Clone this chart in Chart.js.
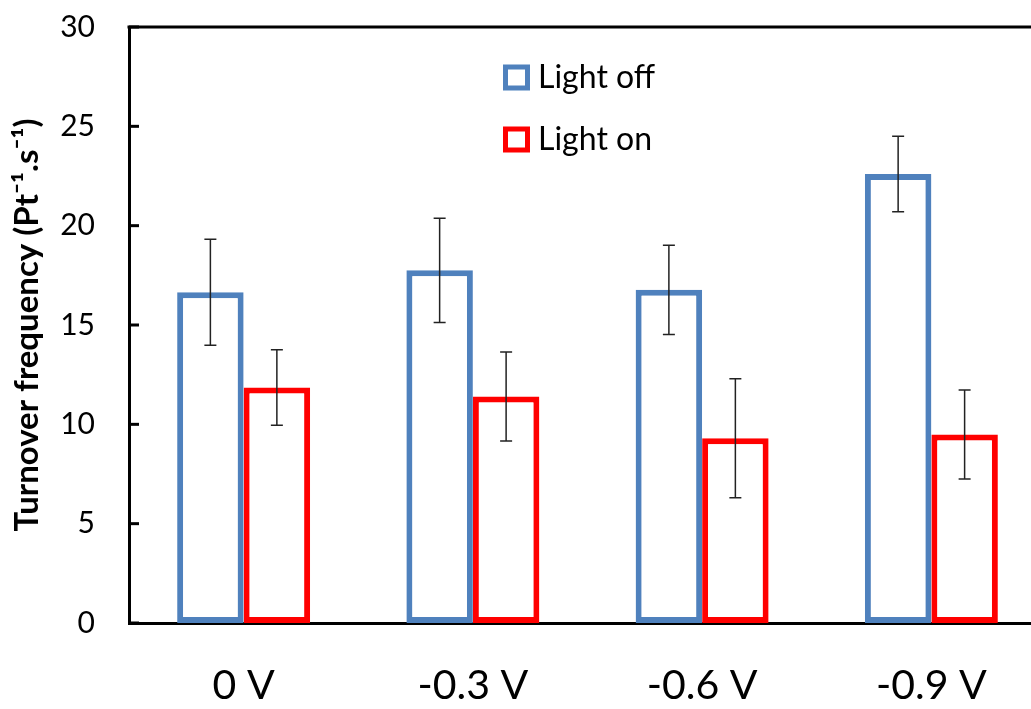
<!DOCTYPE html>
<html>
<head>
<meta charset="utf-8">
<script src="https://cdn.jsdelivr.net/npm/chart.js"></script>
<style>
  html, body { margin: 0; padding: 0; background: #fff; overflow: hidden; }
  #wrap { width: 1060px; height: 709px; }
</style>
</head>
<body>
<div id="wrap"><canvas id="tofChart"></canvas></div>
<script>
// categories and measured values
const potentials = ['0 V', '-0.3 V', '-0.6 V', '-0.9 V'];
const lightOff = [16.65, 17.75, 16.77, 22.6];
const lightOffErr = [2.67, 2.62, 2.25, 1.9];
const lightOn = [11.85, 11.4, 9.3, 9.49];
const lightOnErr = [1.9, 2.24, 3.0, 2.24];
const yTicks = [0, 5, 10, 15, 20, 25, 30];

const FONT = 'Lato, "Open Sans", sans-serif';

// frame line on top, inward ticks on y axis, error bars, boxed legend
const decorPlugin = {
    id: 'decor',
    afterDatasetsDraw(chart) {
        const ctx = chart.ctx;
        const area = chart.chartArea;
        const y = chart.scales.y;
        ctx.save();

        // top frame
        ctx.strokeStyle = '#000';
        ctx.lineWidth = 3;
        ctx.beginPath();
        ctx.moveTo(area.left - 1.5, area.top);
        ctx.lineTo(area.right, area.top);
        ctx.stroke();

        // tick marks pointing into the plot
        ctx.lineWidth = 3;
        yTicks.forEach(v => {
            const py = y.getPixelForValue(v);
            ctx.beginPath();
            ctx.moveTo(area.left, py);
            ctx.lineTo(area.left + 10, py);
            ctx.stroke();
        });

        // error bars
        ctx.strokeStyle = '#222';
        ctx.lineWidth = 1.5;
        chart.data.datasets.forEach((ds, i) => {
            const meta = chart.getDatasetMeta(i);
            meta.data.forEach((bar, j) => {
                const hi = y.getPixelForValue(ds.data[j] + ds.errors[j]);
                const lo = y.getPixelForValue(ds.data[j] - ds.errors[j]);
                ctx.beginPath();
                ctx.moveTo(bar.x, hi); ctx.lineTo(bar.x, lo);
                ctx.moveTo(bar.x - 6, hi); ctx.lineTo(bar.x + 6, hi);
                ctx.moveTo(bar.x - 6, lo); ctx.lineTo(bar.x + 6, lo);
                ctx.stroke();
            });
        });

        // legend
        ctx.font = '32px ' + FONT;
        ctx.textBaseline = 'middle';
        ctx.textAlign = 'left';
        chart.data.datasets.forEach((ds, i) => {
            const cy = 77 + i * 62;
            ctx.strokeStyle = ds.borderColor;
            ctx.lineWidth = 5;
            ctx.strokeRect(505.5, cy - 10, 22, 21);
            ctx.fillStyle = '#000';
            ctx.fillText(ds.label, 538, cy + 1);
        });
        ctx.restore();
    }
};

new Chart(document.getElementById('tofChart'), {
    type: 'bar',
    data: {
        labels: potentials,
        datasets: [
            {
                label: 'Light off',
                data: lightOff,
                errors: lightOffErr,
                backgroundColor: '#ffffff',
                borderColor: '#4f81bd',
                borderWidth: 6,
                borderSkipped: false
            },
            {
                label: 'Light on',
                data: lightOn,
                errors: lightOnErr,
                backgroundColor: '#ffffff',
                borderColor: '#ff0000',
                borderWidth: 6,
                borderSkipped: false
            }
        ]
    },
    options: {
        responsive: true,
        maintainAspectRatio: false,
        animation: false,
        layout: { padding: { top: 27, right: 14, left: 0, bottom: 0 } },
        plugins: {
            legend: { display: false },
            tooltip: { enabled: false }
        },
        datasets: {
            bar: { categoryPercentage: 0.58, barPercentage: 1.0 }
        },
        scales: {
            x: {
                grid: { display: false },
                border: { color: '#000', width: 3 },
                ticks: {
                    color: '#000',
                    font: { family: FONT, size: 41 },
                    padding: 30,
                    maxRotation: 0
                },
                afterFit: s => { s.height = 86; s.paddingLeft = 0; s.paddingRight = 0; }
            },
            y: {
                min: 0,
                max: 30,
                afterBuildTicks: s => { s.ticks = yTicks.map(v => ({ value: v })); },
                grid: { display: false, tickLength: 0 },
                border: { color: '#000', width: 3 },
                ticks: {
                    color: '#000',
                    font: { family: FONT, size: 30 },
                    padding: 34
                },
                title: {
                    display: true,
                    text: 'Turnover frequency (Pt⁻¹.s⁻¹)',
                    color: '#000',
                    font: { family: FONT, size: 33, weight: 'bold' },
                    padding: { top: 8, bottom: 0 }
                },
                afterFit: s => { s.width = 129; s.paddingTop = 0; s.paddingBottom = 0; }
            }
        }
    },
    plugins: [decorPlugin]
});
</script>
</body>
</html>
